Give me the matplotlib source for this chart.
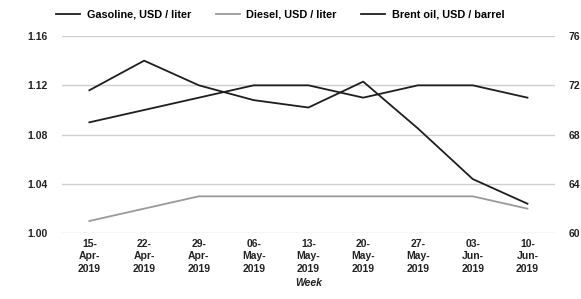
import matplotlib.pyplot as plt

plt.rcParams['font.family'] = ['Liberation Sans', 'DejaVu Sans']
plt.rcParams['font.weight'] = 'bold'

weeks = ['15-\nApr-\n2019', '22-\nApr-\n2019', '29-\nApr-\n2019', '06-\nMay-\n2019',
         '13-\nMay-\n2019', '20-\nMay-\n2019', '27-\nMay-\n2019', '03-\nJun-\n2019',
         '10-\nJun-\n2019']
gasoline = [1.09, 1.10, 1.11, 1.12, 1.12, 1.11, 1.12, 1.12, 1.11]
diesel = [1.01, 1.02, 1.03, 1.03, 1.03, 1.03, 1.03, 1.03, 1.02]
brent = [71.6, 74.0, 72.0, 70.8, 70.2, 72.3, 68.5, 64.4, 62.4]

left_ticks = [1.00, 1.04, 1.08, 1.12, 1.16]
right_ticks = [60, 64, 68, 72, 76]

fig = plt.figure(figsize=(5.81, 2.99), dpi=100)
ax = fig.add_axes([0.1067, 0.2197, 0.955 - 0.1067, 0.8796 - 0.2197])
ax2 = ax.twinx()

x = list(range(len(weeks)))
l1, = ax.plot(x, gasoline, color='#1e1e1e', lw=1.3, label='Gasoline, USD / liter')
l2, = ax.plot(x, diesel, color='#9a9a9a', lw=1.3, label='Diesel, USD / liter')
l3, = ax2.plot(x, brent, color='#1e1e1e', lw=1.3, label='Brent oil, USD / barrel')

ax.set_ylim(1.00, 1.16)
ax.set_yticks(left_ticks)
ax.set_yticklabels([f'{v:.2f}' for v in left_ticks])
ax2.set_ylim(60, 76)
ax2.set_yticks(right_ticks)
ax.set_xlim(-0.5, len(weeks) - 0.5)
ax.set_xticks(x)
ax.set_xticklabels(weeks, linespacing=1.3)

ax.grid(axis='y', color='#cfcfcf', lw=1.0)
ax.set_axisbelow(True)
for a in (ax, ax2):
    for s in a.spines.values():
        s.set_visible(False)
    a.tick_params(length=0, labelsize=7.5, colors='#222222')
ax.tick_params(axis='y', pad=10)
ax.tick_params(axis='x', pad=4)
ax2.tick_params(axis='y', pad=10)

ax.set_xlabel('Week', fontsize=7.5, fontstyle='italic', fontweight='bold',
              color='#222222', labelpad=3)

fig.legend(handles=[l1, l2, l3], loc='upper left', bbox_to_anchor=(0.08, 1.0),
           ncol=3, frameon=False, fontsize=7.8, handlelength=2.2,
           columnspacing=2.3, handletextpad=0.6)

fig.savefig('out.png', dpi=100)
